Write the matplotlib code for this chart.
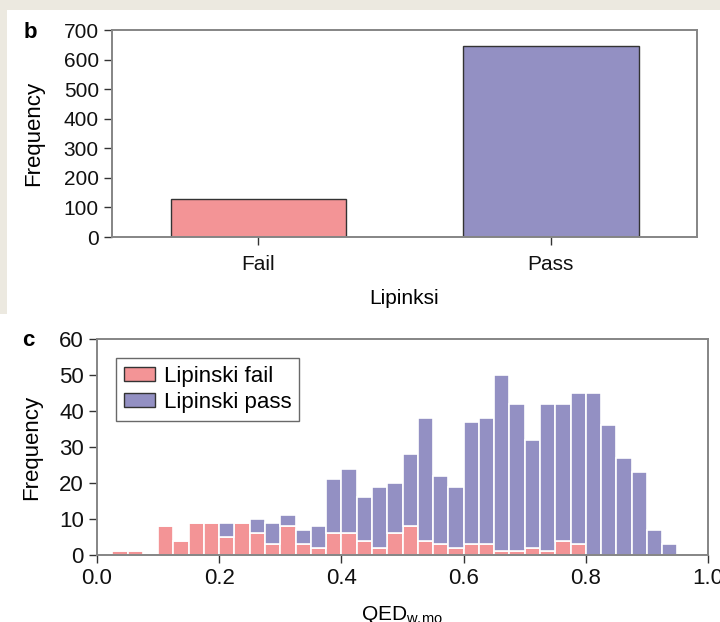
import numpy as np
import matplotlib
matplotlib.use("Agg")
import matplotlib.pyplot as plt
from matplotlib.patches import Rectangle

plt.rcParams['font.family'] = ['Liberation Sans', 'DejaVu Sans']

# panel b: overall Lipinski counts
categories = ["Fail", "Pass"]
counts = [129, 646]

# panel c: QED histogram, bins of 0.025 starting at 0.025
bin_start = 0.025
bin_width = 0.025
fail_counts = [1, 1, 0, 8, 4, 9, 9, 5, 9, 6, 3, 8, 3, 2, 6, 6, 4, 2, 6, 8,
               4, 3, 2, 3, 3, 1, 1, 2, 1, 4, 3, 0, 0, 0, 0, 0, 0]
pass_counts = [0, 0, 0, 0, 0, 0, 0, 4, 0, 4, 6, 3, 4, 6, 15, 18, 12, 17, 14, 20,
               34, 19, 17, 34, 35, 49, 41, 30, 41, 38, 42, 45, 36, 27, 23, 7, 3]
qed_ticks = [0.0, 0.2, 0.4, 0.6, 0.8, 1.0]

pink = '#F39496'
purple = '#9390C3'
spine_col = '#858585'
tick_col = '#333333'

fig = plt.figure(figsize=(7.2, 6.22), dpi=100)
fig.patch.set_facecolor('#ECE9E0')
W, H = 720.0, 622.0
fig.patches.append(Rectangle((7 / W, 1 - 314 / H), 1, (314 - 10) / H,
                             transform=fig.transFigure, facecolor='white',
                             edgecolor='none', zorder=-10))
fig.patches.append(Rectangle((0, 0), 1, 1 - 314 / H,
                             transform=fig.transFigure, facecolor='white',
                             edgecolor='none', zorder=-10))


def style_axes(ax):
    for s in ax.spines.values():
        s.set_color(spine_col)
        s.set_linewidth(1.4)
    ax.tick_params(direction='out', length=6, width=1, color=tick_col,
                   labelcolor='#111111')


# ---- panel b ----
ax1 = fig.add_axes([112 / W, 1 - 237 / H, (697 - 112) / W, (237 - 30) / H])
x = np.arange(len(categories))
ax1.bar(x, counts, width=0.6, color=[pink, purple], edgecolor='#333333',
        linewidth=1.0)
ax1.set_xlim(-0.5, 1.5)
ax1.set_ylim(0, 700)
ax1.set_yticks(range(0, 701, 100))
ax1.set_xticks(x)
ax1.set_xticklabels(categories)
ax1.set_ylabel("Frequency", fontsize=16, labelpad=14)
ax1.set_xlabel("Lipinksi", fontsize=15, labelpad=11)
style_axes(ax1)
ax1.tick_params(labelsize=15)
ax1.tick_params(axis='x', pad=7)
fig.text(30 / W, 1 - 33 / H, "b", fontsize=16, fontweight='bold',
         ha='center', va='center')

# ---- panel c ----
ax2 = fig.add_axes([97 / W, 1 - 555 / H, (708 - 97) / W, (555 - 339) / H])
edges = bin_start + bin_width * np.arange(len(fail_counts))
ax2.bar(edges, fail_counts, width=bin_width, align='edge', color=pink,
        edgecolor='white', linewidth=1.2, label='Lipinski fail')
ax2.bar(edges, pass_counts, width=bin_width, align='edge', bottom=fail_counts,
        color=purple, edgecolor='white', linewidth=1.2, label='Lipinski pass')
ax2.set_xlim(0, 1.0)
ax2.set_ylim(0, 60)
ax2.set_xticks(qed_ticks)
ax2.set_xticklabels(["%.1f" % t for t in qed_ticks])
ax2.set_yticks(range(0, 61, 10))
ax2.set_ylabel("Frequency", fontsize=16, labelpad=12)
ax2.set_xlabel(r"QED$_{\mathregular{w.\!mo}}$", fontsize=15, labelpad=11)
style_axes(ax2)
ax2.tick_params(labelsize=16)
leg = ax2.legend(loc='upper left', fontsize=16, frameon=True, fancybox=False,
                 borderaxespad=0.85, handlelength=1.4, handleheight=0.6,
                 handletextpad=0.4, labelspacing=0.25, borderpad=0.35)
leg.get_frame().set_edgecolor('#444444')
leg.get_frame().set_linewidth(1.0)
for h in leg.legend_handles:
    h.set_edgecolor('#333333')
    h.set_linewidth(1.0)
fig.text(28 / W, 1 - 340 / H, "c", fontsize=16, fontweight='bold',
         ha='center', va='center')

fig.savefig("out.png", dpi=100, facecolor=fig.get_facecolor())
